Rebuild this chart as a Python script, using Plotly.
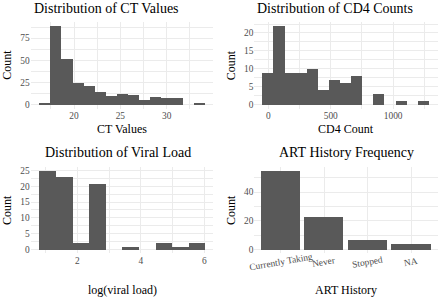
import plotly.graph_objects as go

W, H = 440, 300

# ---- data ----
ct_centers = [16.82, 18.01, 19.21, 20.40, 21.60, 22.79, 23.99, 25.18, 26.38, 27.57, 28.77, 29.96, 31.16, 32.35, 33.55]
ct_counts = [2, 89, 52, 25, 21, 14, 10, 12, 11, 5, 9, 8, 8, 0, 1]
ct_width = 1.195
ct_xticks = [20, 25, 30]
ct_xminor = [17.5, 22.5, 27.5, 32.5]
ct_yticks = [0, 25, 50, 75]
ct_yminor = [12.5, 37.5, 62.5, 87.5]

cd4_centers = [0, 88.9, 177.8, 266.7, 355.6, 444.5, 533.4, 622.3, 711.2, 800.1, 889.0, 977.9, 1066.8, 1155.7, 1244.6]
cd4_counts = [9, 22, 9, 9, 10, 4, 7, 6, 8, 0, 3, 0, 1, 0, 1]
cd4_width = 88.9
cd4_xticks = [0, 500, 1000]
cd4_xminor = [250, 750, 1250]
cd4_yticks = [0, 5, 10, 15, 20]
cd4_yminor = [2.5, 7.5, 12.5, 17.5, 22.5]

vl_centers = [1.055, 1.578, 2.100, 2.623, 3.146, 3.668, 4.191, 4.714, 5.236, 5.759]
vl_counts = [25, 23, 2, 21, 0, 1, 0, 2, 1, 2]
vl_width = 0.5227
vl_xticks = [2, 4, 6]
vl_xminor = [1, 3, 5]
vl_yticks = [0, 5, 10, 15, 20, 25]
vl_yminor = [2.5, 7.5, 12.5, 17.5, 22.5]

art_categories = ["Currently Taking", "Never", "Stopped", "NA"]
art_counts = [55, 23, 7, 4]
art_yticks = [0, 20, 40]
art_yminor = [10, 30, 50]

titles = ["Distribution of CT Values", "Distribution of CD4 Counts",
          "Distribution of Viral Load", "ART History Frequency"]
xtitles = ["CT Values", "CD4 Count", "log(viral load)", "ART History"]
ytitle = "Count"

# ---- style ----
FONT = "Liberation Serif"
BAR = "#595959"
GRID = "#EBEBEB"
TICKC = "#4D4D4D"
TICKSIZE = 9.4


def px(x):
    return x / W


def py(y):
    return 1 - y / H


# panel pixel boxes (left, right, top, bottom)
boxes = [(30.7, 213.4, 21.0, 108.3), (254.4, 437.6, 21.0, 108.3),
         (30.7, 213.4, 166.8, 254.0), (254.4, 437.6, 166.8, 254.0)]


def hist_range(centers, w):
    lo, hi = centers[0] - w / 2, centers[-1] + w / 2
    pad = 0.05 * (hi - lo)
    return [lo - pad, hi + pad]


def yrange(counts):
    m = max(counts)
    return [-0.05 * m, 1.05 * m]


fig = go.Figure()

hists = [(ct_centers, ct_counts, ct_width), (cd4_centers, cd4_counts, cd4_width),
         (vl_centers, vl_counts, vl_width)]
for i, (c, n, w) in enumerate(hists):
    sfx = "" if i == 0 else str(i + 1)
    fig.add_trace(go.Bar(x=c, y=n, width=w, marker=dict(color=BAR, line=dict(width=0)),
                         xaxis="x" + sfx, yaxis="y" + sfx, showlegend=False))
fig.add_trace(go.Bar(x=art_categories, y=art_counts, width=0.9,
                     marker=dict(color=BAR, line=dict(width=0)),
                     xaxis="x4", yaxis="y4", showlegend=False))


def axis(domain, rng, tickvals, minorvals, anchor, showlabels=True):
    d = dict(domain=domain, range=rng, tickmode="array", tickvals=tickvals,
             ticks="", showline=False, zeroline=False, showgrid=True,
             gridcolor=GRID, gridwidth=1, showticklabels=showlabels,
             tickfont=dict(family=FONT, size=TICKSIZE, color=TICKC),
             anchor=anchor, fixedrange=True)
    if minorvals:
        d["minor"] = dict(tickmode="array", tickvals=minorvals, showgrid=True,
                          gridcolor=GRID, gridwidth=0.5, ticks="")
    return d


xspecs = [(hist_range(ct_centers, ct_width), ct_xticks, ct_xminor),
          (hist_range(cd4_centers, cd4_width), cd4_xticks, cd4_xminor),
          (hist_range(vl_centers, vl_width), vl_xticks, vl_xminor)]
yspecs = [(yrange(ct_counts), ct_yticks, ct_yminor),
          (yrange(cd4_counts), cd4_yticks, cd4_yminor),
          (yrange(vl_counts), vl_yticks, vl_yminor),
          (yrange(art_counts), art_yticks, art_yminor)]

layout = {}
for i in range(4):
    l, r, t, b = boxes[i]
    sfx = "" if i == 0 else str(i + 1)
    xd = [px(l), px(r)]
    yd = [py(b), py(t)]
    if i < 3:
        rng, tv, mv = xspecs[i]
        layout["xaxis" + sfx] = axis(xd, rng, tv, mv, "y" + sfx)
    else:
        layout["xaxis" + sfx] = axis(xd, [-0.6, len(art_categories) - 0.4],
                                     art_categories, None, "y" + sfx, showlabels=False)
    rng, tv, mv = yspecs[i]
    layout["yaxis" + sfx] = axis(yd, rng, tv, mv, "x" + sfx)

annotations = []
# titles
title_pos = [(31.7, 8.0, "left"), (255.0, 8.0, "left"), (118.0, 153.0, "center"), (346.0, 153.0, "center")]
for txt, (x, y, anc) in zip(titles, title_pos):
    annotations.append(dict(text=txt, x=px(x), y=py(y), xref="paper", yref="paper",
                            xanchor=anc, yanchor="middle", showarrow=False,
                            font=dict(family=FONT, size=14, color="black")))
# x titles
xt_pos = [(122.0, 129.0), (346.0, 129.0), (122.0, 291.0), (346.0, 291.0)]
for txt, (x, y) in zip(xtitles, xt_pos):
    annotations.append(dict(text=txt, x=px(x), y=py(y), xref="paper", yref="paper",
                            xanchor="center", yanchor="middle", showarrow=False,
                            font=dict(family=FONT, size=12, color="black")))
# y titles
yt_pos = [(7.5, 64.6), (231.0, 64.6), (7.0, 210.4), (231.0, 210.4)]
for x, y in yt_pos:
    annotations.append(dict(text=ytitle, x=px(x), y=py(y), xref="paper", yref="paper",
                            xanchor="center", yanchor="middle", showarrow=False, textangle=-90,
                            font=dict(family=FONT, size=12, color="black")))
# rotated ART category labels
for cat in art_categories:
    annotations.append(dict(text=cat, x=cat, y=py(263.0), xref="x4", yref="paper",
                            xanchor="center", yanchor="middle", showarrow=False, textangle=-10,
                            font=dict(family=FONT, size=TICKSIZE, color=TICKC)))

fig.update_layout(width=W, height=H, margin=dict(l=0, r=0, t=0, b=0),
                  paper_bgcolor="white", plot_bgcolor="white", bargap=0,
                  annotations=annotations, showlegend=False, **layout)

fig.write_html("out.html", config={"displayModeBar": False},
               post_script="document.body.style.margin='0';document.body.style.padding='0';")
